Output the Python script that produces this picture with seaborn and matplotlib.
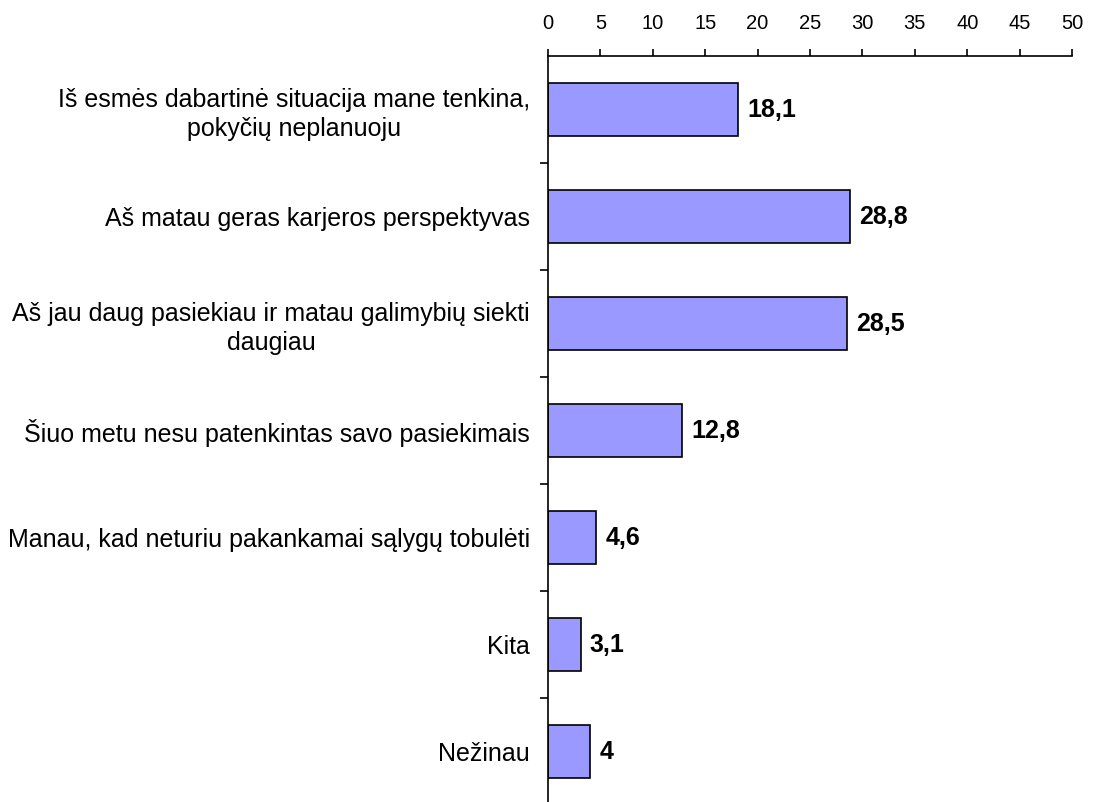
import matplotlib
matplotlib.use("Agg")
import matplotlib.pyplot as plt
import seaborn as sns
import pandas as pd

# Data
categories = [
    "Iš esmės dabartinė situacija mane tenkina,\npokyčių neplanuoju",
    "Aš matau geras karjeros perspektyvas",
    "Aš jau daug pasiekiau ir matau galimybių siekti\ndaugiau",
    "Šiuo metu nesu patenkintas savo pasiekimais",
    "Manau, kad neturiu pakankamai sąlygų tobulėti",
    "Kita",
    "Nežinau",
]
values = [18.1, 28.8, 28.5, 12.8, 4.6, 3.1, 4]
value_labels = ["18,1", "28,8", "28,5", "12,8", "4,6", "3,1", "4"]
x_ticks = [0, 5, 10, 15, 20, 25, 30, 35, 40, 45, 50]

sns.set_style("white")
plt.rcParams['font.family'] = ['Liberation Sans', 'DejaVu Sans']

df = pd.DataFrame({"cat": categories, "val": values})

fig = plt.figure(figsize=(10.93, 8.02), dpi=100)
ax = fig.add_axes([0.5014, -0.004, 0.4794, 0.934])

sns.barplot(data=df, x="val", y="cat", orient="h", color="#9999FF",
            saturation=1, edgecolor="black", linewidth=1.2, width=0.5, ax=ax)

for i, (v, lab) in enumerate(zip(values, value_labels)):
    ax.text(v + 0.9, i, lab, va="center", ha="left", fontsize=18,
            fontweight="bold", color="black")

ax.set_xlim(0, 50)
ax.set_ylim(len(categories) - 0.5, -0.5)
ax.set_xticks(x_ticks)
ax.xaxis.tick_top()
ax.tick_params(axis="x", top=True, bottom=False, length=5, width=1.2,
               direction="out", labelsize=14.5, pad=12, colors="black")

# category labels without ticks, ticks between categories
ax.tick_params(axis="y", which="major", length=0, pad=13, labelsize=18,
               labelcolor="black")
ax.set_yticks([i + 0.5 for i in range(len(categories) - 1)], minor=True)
ax.tick_params(axis="y", which="minor", left=True, length=6, width=1.2,
               direction="out", color="black")
for lbl in ax.get_yticklabels():
    lbl.set_multialignment("center")
    lbl.set_linespacing(1.25)

ax.set_xlabel("")
ax.set_ylabel("")
for side in ["right", "bottom"]:
    ax.spines[side].set_visible(False)
for side in ["top", "left"]:
    ax.spines[side].set_color("black")
    ax.spines[side].set_linewidth(1.2)

fig.savefig("out.png", dpi=100, facecolor="white")
